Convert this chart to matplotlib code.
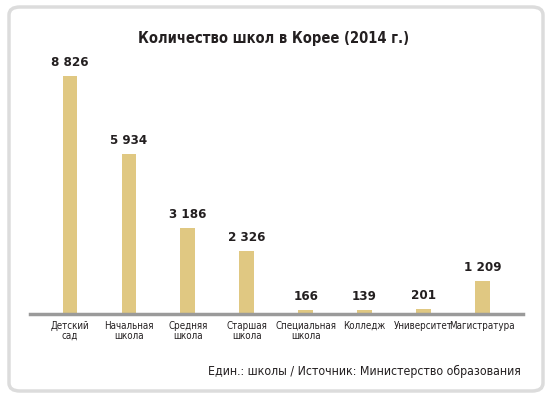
import matplotlib.pyplot as plt
from matplotlib.patches import FancyBboxPatch
import numpy as np

categories = ['Детский\nсад', 'Начальная\nшкола', 'Средняя\nшкола', 'Старшая\nшкола',
              'Специальная\nшкола', 'Колледж', 'Университет', 'Магистратура']
values = [8826, 5934, 3186, 2326, 166, 139, 201, 1209]
value_labels = ['8 826', '5 934', '3 186', '2 326', '166', '139', '201', '1 209']

plt.rcParams['font.family'] = ['DejaVu Sans']
plt.rcParams['font.stretch'] = 'condensed'

W, H = 550, 397
fig = plt.figure(figsize=(W / 100, H / 100), dpi=100)
fig.patch.set_facecolor('white')

# rounded frame
box = FancyBboxPatch((9 / W, 6 / H), 534 / W, 384 / H,
                     boxstyle='round,pad=0,rounding_size=0.02',
                     transform=fig.transFigure, facecolor='none',
                     edgecolor='#dcdcdc', linewidth=2.5, zorder=-1)
fig.patches.append(box)

base_y = 314
top_y = 60
ax = fig.add_axes([30 / W, (H - base_y) / H, 493 / W, (base_y - top_y) / H])
ax.set_facecolor('none')

x = np.arange(len(values))
ax.bar(x, values, width=0.25, color='#e0c882')
ax.set_xlim(-0.68, 7.69)
ax.set_ylim(0, 8826 * (base_y - top_y) / (base_y - 76))

for xi, v, lab in zip(x, values, value_labels):
    ax.annotate(lab, (xi, v), xytext=(0, 5), textcoords='offset points',
                ha='center', va='bottom', fontsize=9.5, fontweight='bold',
                color='#231f20')

for s in ['top', 'right', 'left']:
    ax.spines[s].set_visible(False)
ax.spines['bottom'].set_color('#9a9a9a')
ax.spines['bottom'].set_linewidth(2.5)
ax.set_yticks([])
ax.set_xticks(x)
ax.set_xticklabels(categories, fontsize=7, color='#231f20', linespacing=1.0)
ax.tick_params(axis='x', length=0, pad=5)

fig.text(274 / W, 1 - 38 / H, 'Количество школ в Корее (2014 г.)',
         ha='center', va='center', fontsize=10.5, fontweight='bold',
         color='#231f20')
fig.text(521 / W, 1 - 371 / H, 'Един.: школы / Источник: Министерство образования',
         ha='right', va='center', fontsize=8.8, color='#231f20')

fig.savefig('out.png', dpi=100)
